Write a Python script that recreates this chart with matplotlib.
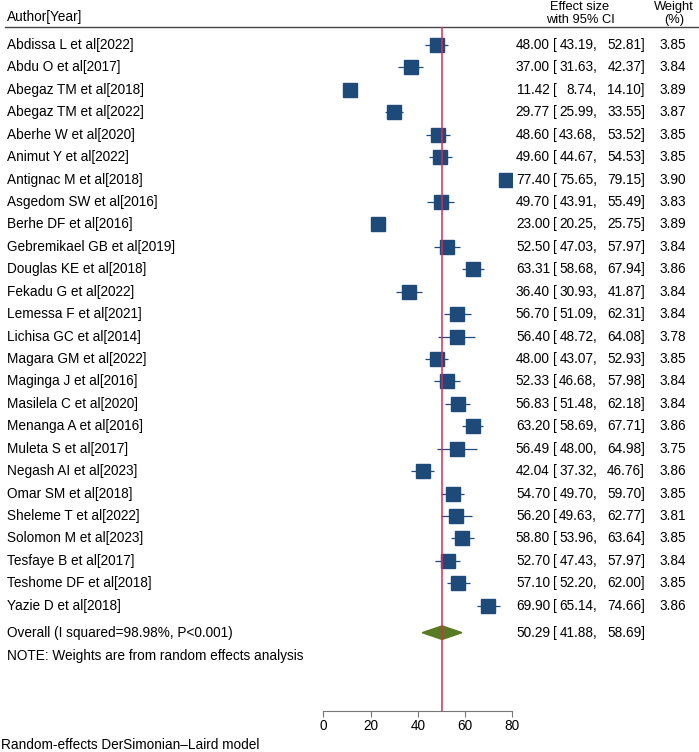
import matplotlib
matplotlib.use("Agg")
import matplotlib.pyplot as plt
import matplotlib.transforms as mtransforms
import numpy as np

authors = ["Abdissa L et al[2022]", "Abdu O et al[2017]", "Abegaz TM et al[2018]",
           "Abegaz TM et al[2022]", "Aberhe W et al[2020]", "Animut Y et al[2022]",
           "Antignac M et al[2018]", "Asgedom SW et al[2016]", "Berhe DF et al[2016]",
           "Gebremikael GB et al[2019]", "Douglas KE et al[2018]", "Fekadu G et al[2022]",
           "Lemessa F et al[2021]", "Lichisa GC et al[2014]", "Magara GM et al[2022]",
           "Maginga J et al[2016]", "Masilela C et al[2020]", "Menanga A et al[2016]",
           "Muleta S et al[2017]", "Negash AI et al[2023]", "Omar SM et al[2018]",
           "Sheleme T et al[2022]", "Solomon M et al[2023]", "Tesfaye B et al[2017]",
           "Teshome DF et al[2018]", "Yazie D et al[2018]"]
est = [48.00, 37.00, 11.42, 29.77, 48.60, 49.60, 77.40, 49.70, 23.00, 52.50, 63.31, 36.40, 56.70,
       56.40, 48.00, 52.33, 56.83, 63.20, 56.49, 42.04, 54.70, 56.20, 58.80, 52.70, 57.10, 69.90]
lo = [43.19, 31.63, 8.74, 25.99, 43.68, 44.67, 75.65, 43.91, 20.25, 47.03, 58.68, 30.93, 51.09,
      48.72, 43.07, 46.68, 51.48, 58.69, 48.00, 37.32, 49.70, 49.63, 53.96, 47.43, 52.20, 65.14]
hi = [52.81, 42.37, 14.10, 33.55, 53.52, 54.53, 79.15, 55.49, 25.75, 57.97, 67.94, 41.87, 62.31,
      64.08, 52.93, 57.98, 62.18, 67.71, 64.98, 46.76, 59.70, 62.77, 63.64, 57.97, 62.00, 74.66]
weights = [3.85, 3.84, 3.89, 3.87, 3.85, 3.85, 3.90, 3.83, 3.89, 3.84, 3.86, 3.84, 3.84,
           3.78, 3.85, 3.84, 3.84, 3.86, 3.75, 3.86, 3.85, 3.81, 3.85, 3.84, 3.85, 3.86]
overall = (50.29, 41.88, 58.69)
overall_label = "Overall (I squared=98.98%, P<0.001)"
xticks = [0, 20, 40, 60, 80]

plt.rcParams["font.family"] = ["Liberation Sans", "DejaVu Sans"]
FS = 9.8
HFS = 9.3
BLUE = "#1d4a78"
GREEN = "#587a22"
RED = "#dc2a5c"

W, H = 699, 752
fig = plt.figure(figsize=(W / 100, H / 100), dpi=100)
# x: 0..80 -> 323..512 px ; y rows: row0 at 45 px, 22.43 px per row
row_h = 22.43
y_top = (27 - 45) / row_h
y_bot = (711 - 45) / row_h
ax = fig.add_axes([323.3 / W, 1 - 711 / H, 189 / W, (711 - 27) / H])
ax.set_xlim(0, 80)
ax.set_ylim(y_bot, y_top)

n = len(authors)
rows = np.arange(n)
ax.hlines(rows, lo, hi, color=BLUE, lw=0.9)
for r, e, w in zip(rows, est, weights):
    ax.plot(e, r, marker="s", ms=10.2 * np.sqrt(w / 3.9), color=BLUE, mec=BLUE, zorder=3)

y_ov = n + 0.2
d = 6.8 / row_h
ax.fill([overall[1], overall[0], overall[2], overall[0]],
        [y_ov, y_ov - d, y_ov, y_ov + d], color=GREEN, zorder=3)
ax.axvline(overall[0], color=RED, lw=1.1, zorder=4)

for s in ["top", "right", "left"]:
    ax.spines[s].set_visible(False)
ax.spines["bottom"].set_color("#777777")
ax.set_yticks([])
ax.set_xticks(xticks)
ax.tick_params(axis="x", colors="#777777", labelcolor="black", labelsize=FS, length=4, pad=2)

tr = mtransforms.blended_transform_factory(fig.transFigure, ax.transData)
def fx(px):
    return px / W

# header
ax.plot([fx(5), fx(699)], [y_top, y_top], transform=tr, color="#444444", lw=1, clip_on=False)
fig.text(fx(7), 1 - 17 / H, "Author[Year]", fontsize=FS, va="center", ha="left")
fig.text(fx(580), 1 - 7 / H, "Effect size", fontsize=HFS, va="center", ha="center")
fig.text(fx(580), 1 - 20 / H, "with 95% CI", fontsize=HFS, va="center", ha="center")
fig.text(fx(674), 1 - 7 / H, "Weight", fontsize=HFS, va="center", ha="center")
fig.text(fx(674), 1 - 20 / H, "(%)", fontsize=HFS, va="center", ha="center")

for r, a, e, l, h, w in zip(rows, authors, est, lo, hi, weights):
    ax.text(fx(7), r, a, transform=tr, fontsize=FS, va="center", ha="left")
    ax.text(fx(550), r, f"{e:.2f}", transform=tr, fontsize=FS, va="center", ha="right")
    ax.text(fx(553), r, "[", transform=tr, fontsize=FS, va="center", ha="left")
    ax.text(fx(597), r, f"{l:.2f},", transform=tr, fontsize=FS, va="center", ha="right")
    ax.text(fx(645), r, f"{h:.2f}]", transform=tr, fontsize=FS, va="center", ha="right")
    ax.text(fx(686), r, f"{w:.2f}", transform=tr, fontsize=FS, va="center", ha="right")

ax.text(fx(7), y_ov, overall_label, transform=tr, fontsize=FS, va="center", ha="left")
ax.text(fx(550), y_ov, f"{overall[0]:.2f}", transform=tr, fontsize=FS, va="center", ha="right")
ax.text(fx(553), y_ov, "[", transform=tr, fontsize=FS, va="center", ha="left")
ax.text(fx(597), y_ov, f"{overall[1]:.2f},", transform=tr, fontsize=FS, va="center", ha="right")
ax.text(fx(645), y_ov, f"{overall[2]:.2f}]", transform=tr, fontsize=FS, va="center", ha="right")
ax.text(fx(7), n + 1.23, "NOTE: Weights are from random effects analysis", transform=tr,
        fontsize=FS, va="center", ha="left")

fig.text(fx(1), 1 - 745 / H, "Random-effects DerSimonian\u2013Laird model", fontsize=FS,
         va="center", ha="left")

fig.savefig("out.png", dpi=100)
